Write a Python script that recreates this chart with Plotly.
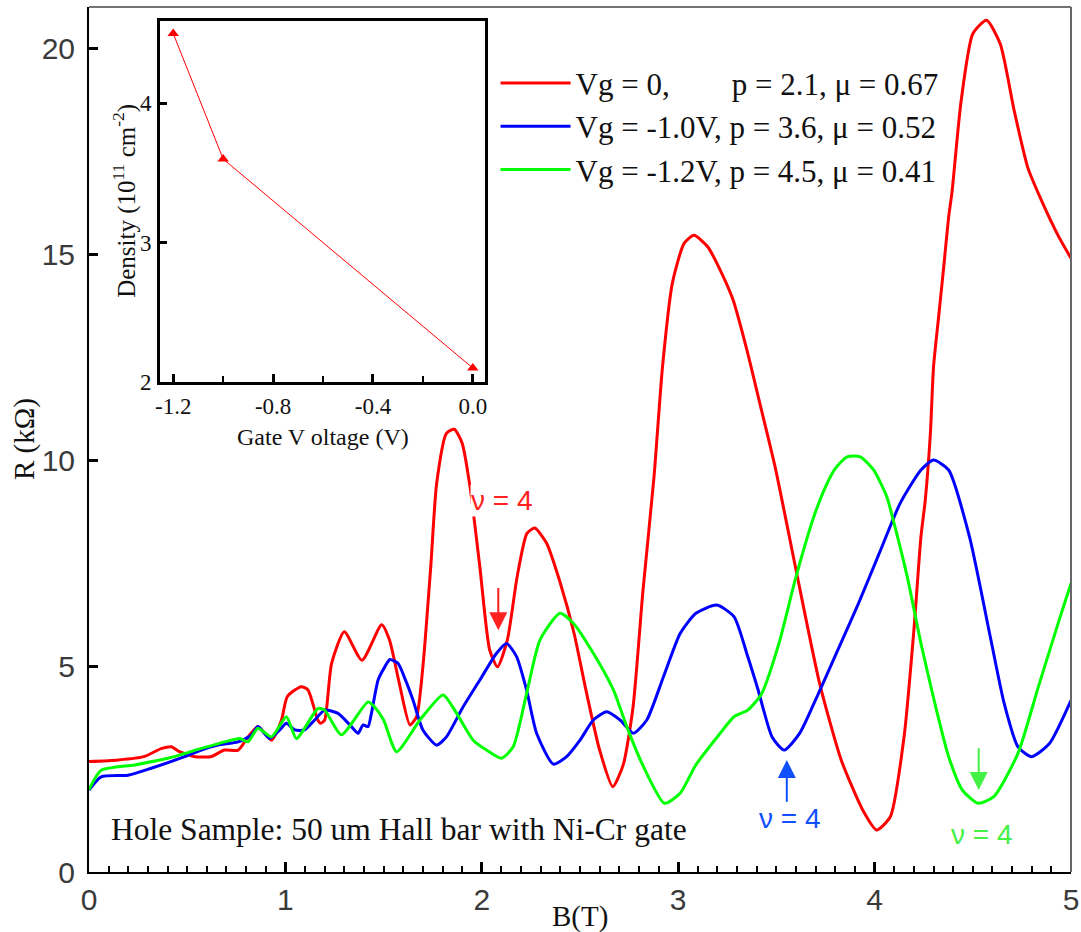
import plotly.graph_objects as go

# ---------------- data ----------------
red_B = [0.00, 0.15, 0.28, 0.37, 0.42, 0.46, 0.54, 0.62, 0.69, 0.76, 0.81, 0.86, 0.93, 0.98,
         1.01, 1.08, 1.115, 1.165, 1.18, 1.20, 1.235, 1.30, 1.39, 1.49, 1.53, 1.58, 1.634, 1.668,
         1.70, 1.74, 1.77, 1.82, 1.86, 1.90, 1.94, 1.99, 2.04, 2.08, 2.13, 2.18, 2.23, 2.27,
         2.33, 2.40, 2.47, 2.53, 2.60, 2.667, 2.72, 2.77, 2.82, 2.877, 2.92, 2.97, 3.03, 3.08,
         3.15, 3.23, 3.28, 3.35, 3.42, 3.495, 3.60, 3.72, 3.83, 3.94, 4.01, 4.08, 4.15, 4.20,
         4.236, 4.258, 4.284, 4.30, 4.326, 4.352, 4.377, 4.394, 4.44, 4.50, 4.57, 4.64, 4.71,
         4.78, 4.85, 4.94, 5.00]
red_R = [2.68, 2.72, 2.80, 3.00, 3.04, 2.92, 2.80, 2.80, 2.96, 2.96, 3.28, 3.53, 3.20, 3.69,
         4.26, 4.50, 4.42, 3.69, 3.61, 3.69, 5.06, 5.83, 5.14, 6.00, 5.63, 4.58, 3.57, 3.77,
         4.98, 7.41, 9.43, 10.65, 10.75, 10.41, 9.35, 7.41, 5.39, 4.98, 5.63, 7.17, 8.22, 8.35,
         7.98, 7.01, 5.79, 4.42, 2.96, 2.07, 2.60, 4.00, 6.80, 9.60, 12.26, 14.29, 15.26, 15.46,
         15.18, 14.45, 13.88, 12.67, 11.29, 9.80, 7.33, 4.58, 2.72, 1.50, 1.02, 1.34, 3.28, 5.87,
         8.14, 9.03, 10.65, 12.26, 13.48, 14.69, 15.90, 16.50, 18.70, 20.35, 20.68, 20.10, 18.50,
         17.10, 16.30, 15.40, 14.90]

blue_B = [0.00, 0.062, 0.198, 0.317, 0.487, 0.572, 0.657, 0.759, 0.827, 0.860, 0.920, 0.971,
          1.005, 1.047, 1.098, 1.149, 1.200, 1.268, 1.336, 1.370, 1.396, 1.421, 1.438, 1.472,
          1.506, 1.532, 1.574, 1.608, 1.65, 1.70, 1.77, 1.82, 1.905, 1.99, 2.075, 2.126, 2.177,
          2.228, 2.279, 2.364, 2.432, 2.50, 2.568, 2.636, 2.704, 2.772, 2.84, 2.925, 3.01, 3.09,
          3.196, 3.284, 3.354, 3.407, 3.478, 3.54, 3.619, 3.707, 3.813, 3.918, 4.024, 4.13,
          4.236, 4.30, 4.377, 4.483, 4.589, 4.66, 4.73, 4.80, 4.89, 5.00]
blue_R = [1.99, 2.31, 2.35, 2.52, 2.80, 2.96, 3.08, 3.16, 3.32, 3.53, 3.24, 3.45,
          3.61, 3.45, 3.45, 3.69, 3.93, 3.85, 3.53, 3.37, 3.57, 3.53, 3.85, 4.66,
          4.98, 5.16, 5.06, 4.70, 4.17, 3.45, 3.08, 3.28, 4.01, 4.66, 5.31, 5.55, 5.23,
          4.42, 3.37, 2.62, 2.80, 3.20, 3.69, 3.89, 3.69, 3.37, 3.69, 4.74, 5.79, 6.28,
          6.48, 6.20, 5.23, 4.42, 3.28, 2.96, 3.37, 4.26, 5.39, 6.52, 7.74, 8.95,
          9.76, 10.00, 9.76, 8.14, 5.71, 4.09, 3.04, 2.80, 3.12, 4.17]

green_B = [0.00, 0.062, 0.232, 0.402, 0.572, 0.691, 0.767, 0.81, 0.86, 0.929, 1.005, 1.056,
           1.166, 1.20, 1.285, 1.421, 1.455, 1.50, 1.566, 1.685, 1.803, 1.872, 1.956, 2.024,
           2.10, 2.16, 2.228, 2.296, 2.398, 2.466, 2.568, 2.67, 2.738, 2.823, 2.93, 3.01, 3.09,
           3.214, 3.284, 3.354, 3.425, 3.513, 3.60, 3.69, 3.75, 3.80, 3.86, 3.927, 3.995, 4.063,
           4.095, 4.166, 4.236, 4.307, 4.377, 4.447, 4.527, 4.607, 4.73, 4.834, 4.94, 5.00]
green_R = [2.00, 2.47, 2.60, 2.76, 3.00, 3.16, 3.24, 3.16, 3.49, 3.28, 3.77, 3.24,
           3.97, 3.93, 3.33, 4.13, 4.00, 3.69, 2.92, 3.69, 4.30, 3.85, 3.20, 2.96,
           2.76, 3.04, 4.33, 5.63, 6.28, 6.04, 5.31, 4.42, 3.53, 2.56, 1.67, 1.91, 2.60,
           3.37, 3.77, 3.93, 4.33, 5.55, 7.17, 8.62, 9.35, 9.80, 10.08, 10.08, 9.76, 9.10,
           8.54, 7.17, 5.55, 4.09, 2.80, 1.99, 1.67, 1.83, 2.88, 4.50, 6.12, 7.01]

legend_names = ["Vg = 0," + "\u00a0" * 8 + "p = 2.1, \u03bc = 0.67",
                "Vg = -1.0V, p = 3.6, \u03bc = 0.52",
                "Vg = -1.2V, p = 4.5, \u03bc = 0.41"]

gate_V = [-1.2, -1.0, 0.0]
density = [4.5, 3.6, 2.1]

main_xticks = [0, 1, 2, 3, 4, 5]
main_yticks = [0, 5, 10, 15, 20]
inset_xticks = [-1.2, -0.8, -0.4, 0.0]
inset_xticktext = ["-1.2", "-0.8", "-0.4", "0.0"]
inset_yticks = [2, 3, 4]

# nu = 4 markers: (tip B, tip R, tail R, text R)
nu_red = (2.084, 5.87, 6.93, 9.03)
nu_blue = (3.553, 2.72, 1.67, 1.29)
nu_green = (4.53, 1.99, 3.04, 0.92)

# ---------------- figure ----------------
SERIF = "Liberation Serif, Times New Roman, serif"
SANS = "Liberation Sans, Arial, sans-serif"

fig = go.Figure()
for B, R, col, name in [(red_B, red_R, "#FF0000", legend_names[0]),
                        (blue_B, blue_R, "#0000FF", legend_names[1]),
                        (green_B, green_R, "#00FF00", legend_names[2])]:
    fig.add_trace(go.Scatter(x=B, y=R, mode="lines", name=name,
                             line=dict(color=col, width=3, shape="spline", smoothing=0.6),
                             xaxis="x", yaxis="y"))

fig.add_trace(go.Scatter(x=gate_V, y=density, mode="lines+markers", showlegend=False,
                         line=dict(color="#FF0000", width=1),
                         marker=dict(symbol="triangle-up", size=10, color="#FF0000"),
                         xaxis="x2", yaxis="y2"))

fig.update_layout(
    width=1081, height=932,
    margin=dict(l=89, r=10, t=7, b=60, autoexpand=False),
    paper_bgcolor="white", plot_bgcolor="white",
    showlegend=True,
    legend=dict(x=0.414, y=0.943, xanchor="left", yanchor="top",
                font=dict(family=SERIF, size=31, color="#111"),
                bgcolor="rgba(0,0,0,0)", itemwidth=70, tracegroupgap=0),
    xaxis=dict(domain=[0, 1], range=[0, 5], tickvals=main_xticks, automargin=False,
               showgrid=False, zeroline=False, showline=True, linecolor="black", linewidth=2,
               ticks="inside", ticklen=10, tickwidth=2.5, tickcolor="black",
               minor=dict(dtick=0.1, ticks="inside", ticklen=6, tickwidth=2, tickcolor="black"),
               tickfont=dict(family=SANS, size=30, color="#3a3a3a"), ticklabelstandoff=0),
    yaxis=dict(domain=[0, 1], range=[0, 21], tickvals=main_yticks, automargin=False,
               showgrid=False, zeroline=False, showline=True, linecolor="black", linewidth=2,
               ticks="inside", ticklen=9, tickwidth=3, tickcolor="black",
               tickfont=dict(family=SANS, size=30, color="#3a3a3a"), ticklabelstandoff=6),
    xaxis2=dict(domain=[0.0723, 0.4033], range=[-1.253, 0.049], anchor="y2", automargin=False,
                tickvals=inset_xticks, ticktext=inset_xticktext,
                showgrid=False, zeroline=False, showline=True, mirror=True,
                linecolor="black", linewidth=3,
                ticks="inside", ticklen=8, tickwidth=2.5, tickcolor="black",
                minor=dict(dtick=0.2, ticks="inside", ticklen=6, tickwidth=1.5, tickcolor="black"),
                tickfont=dict(family=SERIF, size=23, color="#111"), ticklabelstandoff=1),
    yaxis2=dict(domain=[0.5665, 0.9838], range=[2.0, 4.59], anchor="x2", automargin=False,
                tickvals=inset_yticks,
                showgrid=False, zeroline=False, showline=True, mirror=True,
                linecolor="black", linewidth=3,
                ticks="inside", ticklen=7, tickwidth=2.5, tickcolor="black",
                tickfont=dict(family=SERIF, size=23, color="#111"), ticklabelstandoff=1),
)

# thin top / right frame of the main plot
fig.add_shape(type="line", xref="paper", yref="paper", x0=0, x1=1, y0=1, y1=1,
              line=dict(color="#444", width=1.5))
fig.add_shape(type="line", xref="paper", yref="paper", x0=1, x1=1, y0=0, y1=1,
              line=dict(color="#666", width=2))

# axis titles
fig.add_annotation(text="B(T)", xref="x", yref="paper", x=2.5, y=-0.052,
                   showarrow=False, font=dict(family=SERIF, size=29, color="#111"),
                   xanchor="center", yanchor="middle")
fig.add_annotation(text="R (k\u03a9)", xref="paper", yref="paper", x=-0.0656, y=0.5,
                   textangle=-90, showarrow=False, font=dict(family=SERIF, size=29, color="#111"),
                   xanchor="center", yanchor="middle")
fig.add_annotation(text="Gate V oltage (V)", xref="x2", yref="paper", x=-0.6, y=0.503,
                   showarrow=False, font=dict(family=SERIF, size=24, color="#111"),
                   xanchor="center", yanchor="middle")
fig.add_annotation(text="Density (10<sup>11</sup> cm<sup>-2</sup>)", xref="paper", yref="y2",
                   x=0.0367, y=3.3, textangle=-90, showarrow=False,
                   font=dict(family=SERIF, size=25, color="#111"),
                   xanchor="center", yanchor="middle")

# sample description
fig.add_annotation(text="Hole Sample: 50 um Hall bar with Ni-Cr gate", xref="x", yref="y",
                   x=0.10, y=1.04, showarrow=False, xanchor="left", yanchor="middle",
                   font=dict(family=SERIF, size=31.5, color="#111"))

# nu = 4 labels and arrows
for (bx, tip, tail, ty), col, bg in [(nu_red, "#FF2020", "white"),
                                     (nu_blue, "#1050FF", "rgba(0,0,0,0)"),
                                     (nu_green, "#44F044", "rgba(0,0,0,0)")]:
    fig.add_annotation(x=bx, y=tip, ax=bx, ay=tail, xref="x", yref="y", axref="x", ayref="y",
                       text="", showarrow=True, arrowhead=2, arrowsize=1.8, arrowwidth=2,
                       arrowcolor=col)
    fig.add_annotation(x=bx + 0.015, y=ty, xref="x", yref="y", text="\u03bd = 4", showarrow=False,
                       font=dict(family=SANS, size=28, color=col), bgcolor=bg, borderpad=0,
                       xanchor="center", yanchor="middle")

fig.write_html("out.html")
